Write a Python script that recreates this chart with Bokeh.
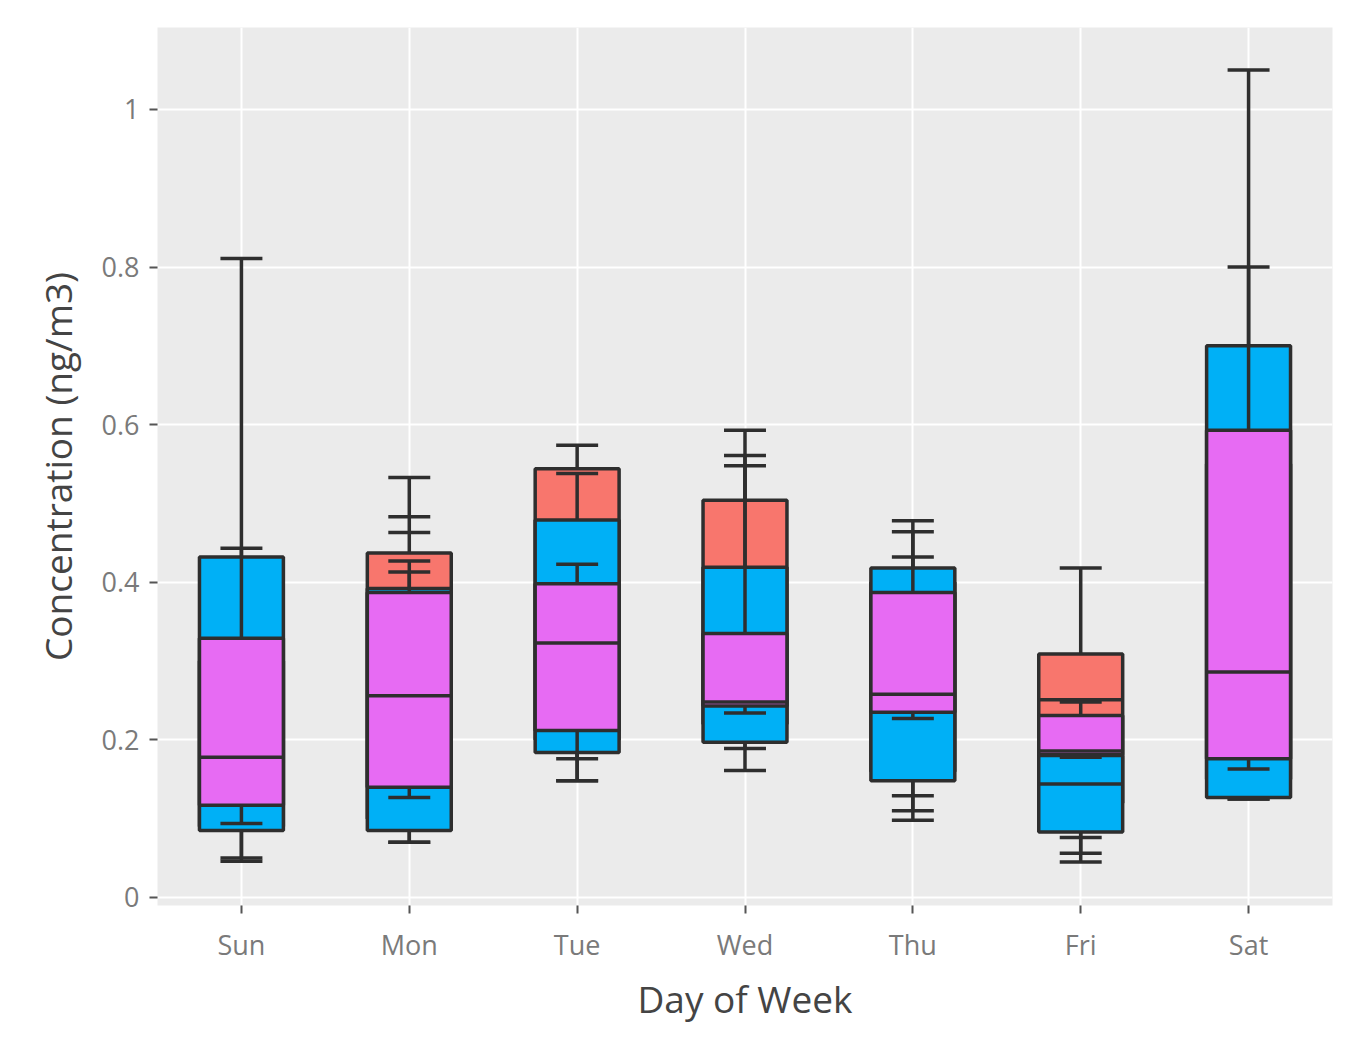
from bokeh.plotting import figure
from bokeh.models import ColumnDataSource, Range1d, FixedTicker
from bokeh.transform import dodge
from bokeh.embed import file_html
from bokeh.resources import INLINE

days = ["Sun", "Mon", "Tue", "Wed", "Thu", "Fri", "Sat"]

# red series (drawn first)
red_lw  = [0.046, 0.070, 0.148, 0.161, 0.098, 0.045, 0.125]
red_q1  = [0.090, 0.100, 0.200, 0.220, 0.160, 0.120, 0.150]
red_med = [0.160, 0.300, 0.300, 0.360, 0.280, 0.251, 0.300]
red_q3  = [0.300, 0.437, 0.544, 0.504, 0.400, 0.309, 0.550]
red_uw  = [0.400, 0.533, 0.574, 0.593, 0.478, 0.418, 0.650]

# blue series
blue_lw  = [0.050, 0.070, 0.148, 0.189, 0.110, 0.056, 0.125]
blue_q1  = [0.085, 0.085, 0.184, 0.197, 0.148, 0.083, 0.127]
blue_med = [0.200, 0.200, 0.300, 0.300, 0.250, 0.144, 0.350]
blue_q3  = [0.432, 0.392, 0.479, 0.419, 0.418, 0.180, 0.700]
blue_uw  = [0.811, 0.427, 0.538, 0.561, 0.464, 0.210, 1.050]

# magenta series (drawn last)
mag_lw  = [0.094, 0.127, 0.176, 0.234, 0.227, 0.178, 0.163]
mag_q1  = [0.117, 0.140, 0.212, 0.243, 0.235, 0.181, 0.176]
mag_med = [0.178, 0.256, 0.323, 0.248, 0.258, 0.186, 0.286]
mag_q3  = [0.329, 0.387, 0.398, 0.335, 0.387, 0.231, 0.593]
mag_uw  = [0.443, 0.413, 0.423, 0.548, 0.432, 0.248, 0.800]

# additional whisker caps seen on the picture
extra_day = ["Mon", "Mon", "Thu", "Fri"]
extra_val = [0.463, 0.483, 0.129, 0.076]

series = [
    ("#F8766D", red_lw, red_q1, red_med, red_q3, red_uw),
    ("#00B0F6", blue_lw, blue_q1, blue_med, blue_q3, blue_uw),
    ("#E76BF3", mag_lw, mag_q1, mag_med, mag_q3, mag_uw),
]

FONT = "Open Sans"
LINE = "#2E2E2E"
LW = 3.5

p = figure(x_range=days, width=1358, height=1039, output_backend="svg",
           toolbar_location=None, min_border_left=157, min_border_right=26,
           min_border_top=27, min_border_bottom=134)
p.x_range.range_padding = 0
p.y_range = Range1d(-0.0102, 1.104)

p.background_fill_color = "#EBEBEB"
p.border_fill_color = "white"
p.outline_line_color = None
p.xgrid.grid_line_color = "white"
p.ygrid.grid_line_color = "white"
p.xgrid.grid_line_width = 2
p.ygrid.grid_line_width = 2

p.yaxis.ticker = FixedTicker(ticks=[0, 0.2, 0.4, 0.6, 0.8, 1])
p.yaxis.major_label_overrides = {0: "0", 0.2: "0.2", 0.4: "0.4", 0.6: "0.6", 0.8: "0.8", 1: "1"}

for ax in (p.xaxis[0], p.yaxis[0]):
    ax.axis_line_color = None
    ax.major_tick_in = 0
    ax.major_tick_out = 8
    ax.major_tick_line_color = "#555555"
    ax.major_tick_line_width = 2
    ax.minor_tick_line_color = None
    ax.major_label_text_font = FONT
    ax.major_label_text_font_size = "27px"
    ax.major_label_text_color = "#7A7A7A"
    ax.axis_label_text_font = FONT
    ax.axis_label_text_font_size = "37px"
    ax.axis_label_text_font_style = "normal"
    ax.axis_label_text_color = "#444444"

p.xaxis.axis_label = "Day of Week"
p.yaxis.axis_label = "Concentration (ng/m3)"
p.xaxis.major_label_standoff = 12
p.yaxis.major_label_standoff = 10
p.xaxis.axis_label_standoff = 7
p.yaxis.axis_label_standoff = 16

# extra caps
esrc = ColumnDataSource(dict(day=extra_day, val=extra_val))
p.segment(x0=dodge("day", -0.125, range=p.x_range), y0="val",
          x1=dodge("day", 0.125, range=p.x_range), y1="val",
          source=esrc, line_color=LINE, line_width=LW)

for color, lw, q1, med, q3, uw in series:
    src = ColumnDataSource(dict(day=days, lw=lw, q1=q1, med=med, q3=q3, uw=uw))
    p.segment(x0="day", y0="lw", x1="day", y1="uw", source=src,
              line_color=LINE, line_width=LW)
    for col in ("lw", "uw"):
        p.segment(x0=dodge("day", -0.125, range=p.x_range), y0=col,
                  x1=dodge("day", 0.125, range=p.x_range), y1=col,
                  source=src, line_color=LINE, line_width=LW)
    p.vbar(x="day", width=0.5, bottom="q1", top="q3", source=src,
           fill_color=color, line_color=LINE, line_width=LW)
    p.segment(x0=dodge("day", -0.25, range=p.x_range), y0="med",
              x1=dodge("day", 0.25, range=p.x_range), y1="med",
              source=src, line_color=LINE, line_width=LW)

open("out.html", "w").write(file_html(p, INLINE))
